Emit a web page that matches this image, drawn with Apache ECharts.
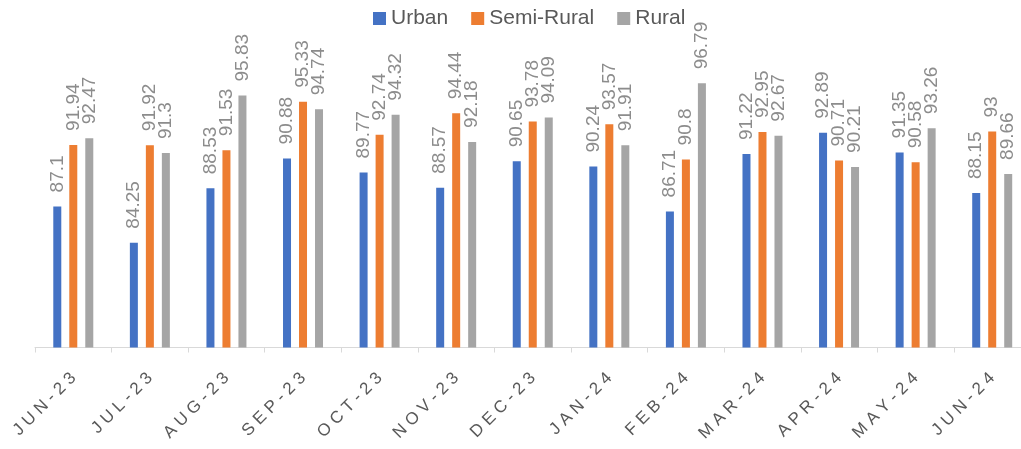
<!DOCTYPE html>
<html><head><meta charset="utf-8">
<script src="https://cdn.jsdelivr.net/npm/echarts@6/dist/echarts.min.js"></script>
<style>html,body{margin:0;padding:0;background:#fff}#c{width:1021px;height:449px}</style>
</head><body><div id="c"></div>
<script>
const categories = ["JUN-23","JUL-23","AUG-23","SEP-23","OCT-23","NOV-23","DEC-23","JAN-24","FEB-24","MAR-24","APR-24","MAY-24","JUN-24"];
const urban = [87.1, 84.25, 88.53, 90.88, 89.77, 88.57, 90.65, 90.24, 86.71, 91.22, 92.89, 91.35, 88.15];
const semiRural = [91.94, 91.92, 91.53, 95.33, 92.74, 94.44, 93.78, 93.57, 90.8, 92.95, 90.71, 90.58, 93];
const rural = [92.47, 91.3, 95.83, 94.74, 94.32, 92.18, 94.09, 91.91, 96.79, 92.67, 90.21, 93.26, 89.66];
const seriesNames = ["Urban","Semi-Rural","Rural"];
const colors = ["#4472C4","#ED7D31","#A5A5A5"];

const chart = echarts.init(document.getElementById('c'), null, {renderer:'canvas'});
const font = '"Liberation Sans", Arial, sans-serif';
function mk(name, data, color){
  return {
    name, type:'bar', data, barWidth:8, barGap:'100%',
    itemStyle:{color},
    label:{show:true, position:'top', rotate:90, align:'left', verticalAlign:'middle',
      distance:14, color:'#8c8c8c', fontSize:19, fontFamily:font},
  };
}
chart.setOption({
  animation:false,
  legend:{top:3, left:368, itemWidth:13, itemHeight:13, itemGap:23, icon:'rect',
    textStyle:{color:'#595959', fontSize:21, fontFamily:font},
    data:seriesNames},
  grid:{left:35, top:42.5, width:995.5, bottom:101.5, containLabel:false, outerBoundsMode:'none'},
  xAxis:{type:'category', data:categories,
    axisLine:{lineStyle:{color:'#d9d9d9', width:1}},
    axisTick:{show:true, length:5, lineStyle:{color:'#d9d9d9'}},
    axisLabel:{rotate:45, margin:28, color:'#595959', fontSize:17, fontFamily:font,
      formatter: v => v.split('').join(' ')}
  },
  yAxis:{type:'value', min:76, max:100, show:false, splitLine:{show:false}},
  series:[mk(seriesNames[0], urban, colors[0]), mk(seriesNames[1], semiRural, colors[1]), mk(seriesNames[2], rural, colors[2])]
});
</script></body></html>
